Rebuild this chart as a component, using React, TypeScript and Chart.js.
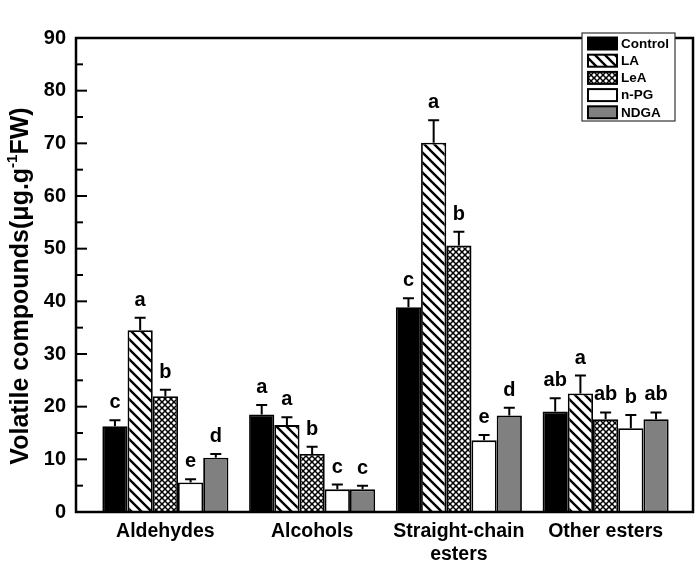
import React, { useEffect, useRef } from "react";
import { Chart, registerables } from "chart.js";

Chart.register(...registerables);

// ---- data ----
const categories: (string | string[])[] = ["Aldehydes", "Alcohols", ["Straight-chain", "esters"], "Other esters"];
const seriesNames = ["Control", "LA", "LeA", "n-PG", "NDGA"];

const controlValues = [16.3, 18.5, 38.9, 19.1];
const laValues = [34.5, 16.5, 70.1, 22.5];
const leaValues = [22.0, 11.0, 50.6, 17.6];
const npgValues = [5.6, 4.3, 13.6, 15.9];
const ndgaValues = [10.3, 4.3, 18.3, 17.6];

const controlErrors = [1.1, 1.8, 1.7, 2.5];
const laErrors = [2.4, 1.5, 4.3, 3.4];
const leaErrors = [1.2, 1.4, 2.6, 1.3];
const npgErrors = [0.6, 0.9, 1.0, 2.5];
const ndgaErrors = [0.7, 0.7, 1.5, 1.3];

const controlLetters = ["c", "a", "c", "ab"];
const laLetters = ["a", "a", "a", "a"];
const leaLetters = ["b", "b", "b", "ab"];
const npgLetters = ["e", "c", "e", "b"];
const ndgaLetters = ["d", "c", "d", "ab"];

const yMin = 0;
const yMax = 90;
const yStep = 10;
const yMinorStep = 5;

const yTitleMain = "Volatile compounds(μg.g";
const yTitleSup = "-1";
const yTitleEnd = "FW)";

const FONT = "'Liberation Sans', Arial, Helvetica, sans-serif";

function diagPattern(): CanvasPattern | string {
  const c = document.createElement("canvas");
  c.width = 10;
  c.height = 10;
  const g = c.getContext("2d");
  if (!g) return "#fff";
  g.fillStyle = "#fff";
  g.fillRect(0, 0, 10, 10);
  g.strokeStyle = "#000";
  g.lineWidth = 2.4;
  g.beginPath();
  g.moveTo(-2, -2);
  g.lineTo(12, 12);
  g.moveTo(-2, 8);
  g.lineTo(2, 12);
  g.moveTo(8, -2);
  g.lineTo(12, 2);
  g.stroke();
  return g.createPattern(c, "repeat") || "#fff";
}

function crossPattern(): CanvasPattern | string {
  const s = 6;
  const c = document.createElement("canvas");
  c.width = s;
  c.height = s;
  const g = c.getContext("2d");
  if (!g) return "#fff";
  g.fillStyle = "#fff";
  g.fillRect(0, 0, s, s);
  g.strokeStyle = "#000";
  g.lineWidth = 1.5;
  g.beginPath();
  g.moveTo(-1, -1);
  g.lineTo(s + 1, s + 1);
  g.moveTo(s + 1, -1);
  g.lineTo(-1, s + 1);
  g.stroke();
  return g.createPattern(c, "repeat") || "#fff";
}

export default function App() {
  const ref = useRef<HTMLCanvasElement | null>(null);

  useEffect(() => {
    const canvas = ref.current;
    if (!canvas) return;

    const fills: (CanvasPattern | string)[] = ["#000000", diagPattern(), crossPattern(), "#ffffff", "#808080"];
    const values = [controlValues, laValues, leaValues, npgValues, ndgaValues];
    const errors = [controlErrors, laErrors, leaErrors, npgErrors, ndgaErrors];
    const letters = [controlLetters, laLetters, leaLetters, npgLetters, ndgaLetters];

    const decor = {
      id: "decor",
      afterDraw(chart: any) {
        const ctx: CanvasRenderingContext2D = chart.ctx;
        const area = chart.chartArea;
        const ys = chart.scales.y;
        const frameL = area.left - 16;
        const frameR = area.right + 14;
        const frameT = area.top;
        const frameB = area.bottom;

        ctx.save();
        // error bars and letters
        chart.data.datasets.forEach((ds: any, di: number) => {
          const meta = chart.getDatasetMeta(di);
          meta.data.forEach((bar: any, i: number) => {
            const v = ds.data[i];
            const e = errors[di][i];
            const yTop = ys.getPixelForValue(v + e);
            const yBar = ys.getPixelForValue(v);
            ctx.strokeStyle = "#000";
            ctx.lineWidth = 2;
            ctx.beginPath();
            ctx.moveTo(bar.x, yBar);
            ctx.lineTo(bar.x, yTop);
            ctx.moveTo(bar.x - 5.5, yTop);
            ctx.lineTo(bar.x + 5.5, yTop);
            ctx.stroke();
            ctx.fillStyle = "#000";
            ctx.font = `bold 20px ${FONT}`;
            ctx.textAlign = "center";
            ctx.textBaseline = "alphabetic";
            ctx.fillText(letters[di][i], bar.x, yTop - 12);
          });
        });

        // frame
        ctx.strokeStyle = "#000";
        ctx.lineWidth = 2.5;
        ctx.strokeRect(frameL, frameT, frameR - frameL, frameB - frameT);

        // y ticks (inward)
        ctx.lineWidth = 2;
        for (let v = yMin; v <= yMax; v += yMinorStep) {
          const y = ys.getPixelForValue(v);
          const major = v % yStep === 0;
          ctx.beginPath();
          ctx.moveTo(frameL, y);
          ctx.lineTo(frameL + (major ? 11 : 7), y);
          ctx.stroke();
        }

        // y title
        ctx.save();
        ctx.translate(28, 286);
        ctx.rotate(-Math.PI / 2);
        ctx.fillStyle = "#000";
        ctx.textBaseline = "alphabetic";
        ctx.textAlign = "left";
        const mainFont = `bold 25px ${FONT}`;
        const supFont = `bold 15px ${FONT}`;
        ctx.font = mainFont;
        const w1 = ctx.measureText(yTitleMain).width;
        const w3 = ctx.measureText(yTitleEnd).width;
        ctx.font = supFont;
        const w2 = ctx.measureText(yTitleSup).width;
        let x0 = -(w1 + w2 + w3) / 2;
        ctx.font = mainFont;
        ctx.fillText(yTitleMain, x0, 0);
        x0 += w1;
        ctx.font = supFont;
        ctx.fillText(yTitleSup, x0, -11);
        x0 += w2;
        ctx.font = mainFont;
        ctx.fillText(yTitleEnd, x0, 0);
        ctx.restore();

        // legend
        const lgL = 582, lgT = 33, lgR = 675, lgB = 121;
        ctx.fillStyle = "#fff";
        ctx.fillRect(lgL, lgT, lgR - lgL, lgB - lgT);
        ctx.strokeStyle = "#333";
        ctx.lineWidth = 1.2;
        ctx.strokeRect(lgL, lgT, lgR - lgL, lgB - lgT);
        chart.data.datasets.forEach((ds: any, di: number) => {
          const cy = 43.5 + di * 17.2;
          ctx.fillStyle = ds.backgroundColor;
          ctx.fillRect(588, cy - 6, 29, 12);
          ctx.strokeStyle = "#000";
          ctx.lineWidth = 2;
          ctx.strokeRect(588, cy - 6, 29, 12);
          ctx.fillStyle = "#000";
          ctx.font = `bold 13.5px ${FONT}`;
          ctx.textAlign = "left";
          ctx.textBaseline = "middle";
          ctx.fillText(ds.label, 621, cy + 0.5);
        });
        ctx.restore();
      },
    };

    const chart = new Chart(canvas, {
      type: "bar",
      data: {
        labels: categories as any,
        datasets: seriesNames.map((name, i) => ({
          label: name,
          data: values[i],
          backgroundColor: fills[i] as any,
          borderColor: "#000",
          borderWidth: 1.8,
          borderSkipped: "start",
          categoryPercentage: 0.859,
          barPercentage: 1,
        })),
      },
      options: {
        responsive: false,
        animation: false,
        layout: { padding: { left: 0, right: 21, top: 12, bottom: 0 } },
        plugins: {
          legend: { display: false },
          tooltip: { enabled: false },
          title: { display: false },
        },
        scales: {
          x: {
            grid: { display: false, drawTicks: false },
            border: { display: false },
            ticks: {
              color: "#000",
              font: { family: FONT, size: 19.5, weight: "bold" },
              padding: 8,
              maxRotation: 0,
              autoSkip: false,
            },
            afterFit: (scale: any) => {
              scale.height = 51;
            },
          },
          y: {
            min: yMin,
            max: yMax,
            grid: { display: false, drawTicks: false },
            border: { display: false },
            ticks: {
              stepSize: yStep,
              color: "#000",
              font: { family: FONT, size: 20, weight: "bold" },
              padding: 26,
            },
            afterFit: (scale: any) => {
              scale.width = 92;
            },
          },
        },
      },
      plugins: [decor],
    } as any);

    return () => chart.destroy();
  }, []);

  return (
    <div style={{ position: "absolute", left: 0, top: 0, width: 700, height: 563, background: "#fff" }}>
      <canvas ref={ref} width={700} height={563} style={{ display: "block" }} />
    </div>
  );
}
